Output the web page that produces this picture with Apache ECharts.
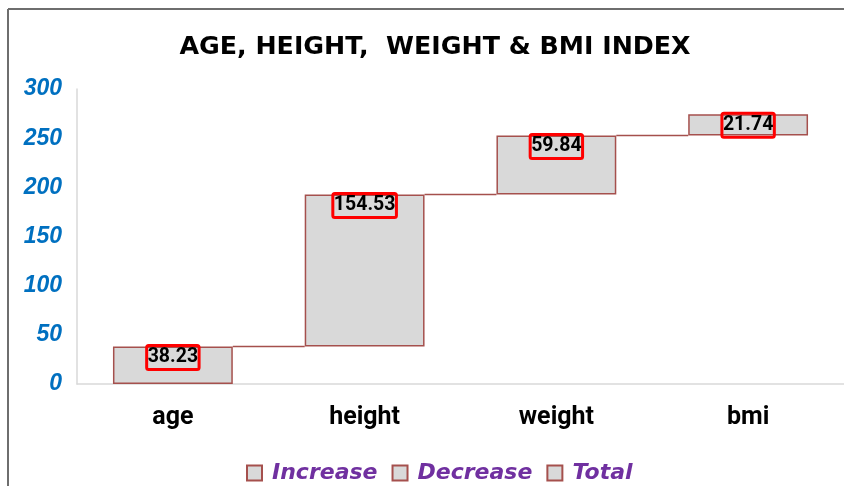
<!DOCTYPE html>
<html>
<head>
<meta charset="utf-8">
<script src="https://cdn.jsdelivr.net/npm/echarts@6/dist/echarts.min.js"></script>
<style>
  * { margin: 0; padding: 0; }
  html, body { background: #fff; }
  #main { width: 844px; height: 486px; }
</style>
</head>
<body>
<div id="main"></div>
<script>
  // values
  var categories = ['age', 'height', 'weight', 'bmi'];
  var increaseValues = [38.23, 154.53, 59.84, 21.74];
  var yTicks = [0, 50, 100, 150, 200, 250, 300];

  // running totals for the invisible base and the step connectors
  var baseValues = [];
  var topValues = [];
  var run = 0;
  increaseValues.forEach(function (v) {
    baseValues.push(+run.toFixed(2));
    run += v;
    topValues.push(+run.toFixed(2));
  });
  var connectors = [];
  for (var i = 0; i < topValues.length - 1; i++) {
    connectors.push([i, topValues[i]]);
  }

  var barFill = '#d9d9d9';
  var barEdge = '#a5504d';
  var barRatio = 0.625;

  var chart = echarts.init(document.getElementById('main'));
  chart.setOption({
    animation: false,
    title: {
      text: 'AGE, HEIGHT,  WEIGHT & BMI INDEX',
      left: 430,
      textAlign: 'center',
      top: 30,
      textStyle: {
        fontFamily: 'DejaVu Sans',
        fontWeight: 'bold',
        fontSize: 25.3,
        color: '#000'
      }
    },
    graphic: [
      { type: 'line', shape: { x1: 8, y1: 9, x2: 844, y2: 9 }, style: { stroke: '#6e6e6e', lineWidth: 2 } },
      { type: 'line', shape: { x1: 8, y1: 9, x2: 8, y2: 486 }, style: { stroke: '#6e6e6e', lineWidth: 2 } }
    ],
    legend: {
      data: ['Increase', 'Decrease', 'Total'],
      left: 246,
      top: 462,
      padding: 0,
      icon: 'rect',
      itemWidth: 15,
      itemHeight: 15,
      itemGap: 14,
      textStyle: {
        fontFamily: 'DejaVu Sans',
        fontStyle: 'italic',
        fontWeight: 'bold',
        fontSize: 22,
        color: '#7030a0',
        padding: [0, 0, 0, 5]
      }
    },
    grid: {
      left: 77,
      right: -5,
      top: 89,
      bottom: 102
    },
    xAxis: {
      type: 'category',
      data: categories,
      axisLine: { lineStyle: { color: '#d9d9d9', width: 1.5 } },
      axisTick: { show: false },
      axisLabel: {
        margin: 21,
        fontFamily: 'Roboto',
        fontWeight: 'bold',
        fontSize: 25,
        color: '#000'
      }
    },
    yAxis: {
      type: 'value',
      min: yTicks[0],
      max: yTicks[yTicks.length - 1],
      interval: yTicks[1] - yTicks[0],
      splitLine: { show: false },
      axisTick: { show: false },
      axisLine: { show: true, lineStyle: { color: '#d9d9d9', width: 1.5 } },
      axisLabel: {
        margin: 15,
        fontFamily: 'Liberation Sans',
        fontStyle: 'italic',
        fontWeight: 'bold',
        fontSize: 23,
        color: '#0070c0'
      }
    },
    series: [
      {
        name: 'base',
        type: 'bar',
        stack: 'wf',
        barWidth: (barRatio * 100) + '%',
        silent: true,
        itemStyle: { color: 'transparent', borderColor: 'transparent' },
        data: baseValues
      },
      {
        name: 'Increase',
        type: 'bar',
        stack: 'wf',
        itemStyle: { color: barFill, borderColor: barEdge, borderWidth: 1.5 },
        label: {
          show: true,
          position: 'insideTop',
          distance: -1,
          fontFamily: 'Roboto',
          fontWeight: 'bold',
          fontSize: 19.5,
          lineHeight: 22,
          color: '#000',
          borderColor: '#ff0000',
          borderWidth: 3,
          borderRadius: 2,
          padding: [1, 1, 1, 1]
        },
        data: increaseValues
      },
      {
        name: 'Decrease',
        type: 'bar',
        stack: 'wf',
        itemStyle: { color: barFill, borderColor: barEdge, borderWidth: 1.5 },
        data: []
      },
      {
        name: 'Total',
        type: 'bar',
        stack: 'wf',
        itemStyle: { color: barFill, borderColor: barEdge, borderWidth: 1.5 },
        data: []
      },
      {
        name: 'connector',
        type: 'custom',
        silent: true,
        z: 1,
        encode: { x: 0, y: 1 },
        renderItem: function (params, api) {
          var idx = api.value(0);
          var val = api.value(1);
          var p1 = api.coord([idx, val]);
          var p2 = api.coord([idx + 1, val]);
          var half = api.size([1, 0])[0] * barRatio / 2;
          return {
            type: 'line',
            shape: { x1: p1[0] + half, y1: p1[1], x2: p2[0] - half, y2: p2[1] },
            style: { stroke: barEdge, lineWidth: 1.5 }
          };
        },
        data: connectors
      }
    ]
  });
</script>
</body>
</html>
